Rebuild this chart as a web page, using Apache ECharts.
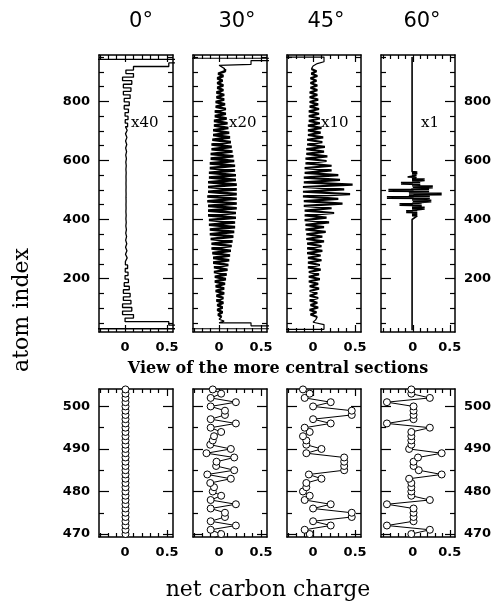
<!DOCTYPE html>
<html><head><meta charset="utf-8">
<script src="https://cdn.jsdelivr.net/npm/echarts/dist/echarts.min.js"></script>
<style>html,body{margin:0;padding:0;background:#fff}#c{width:497px;height:608px}</style>
</head><body><div id="c"></div><script>
// ---------------- data ----------------
const panelTitles = ['0°', '30°', '45°', '60°'];
const scaleLabels = ['x40', 'x20', 'x10', 'x1'];
const xTickLabels = [0, 0.5];
const xMinorTickValues = [-0.4, -0.3, -0.2, -0.1, 0.1, 0.2, 0.3, 0.4];
const topYTickLabels = [200, 400, 600, 800];
const topYMinorTicks = [50, 100, 150, 250, 300, 350, 450, 500, 550, 650, 700, 750, 850, 900, 950];
const bottomYTickLabels = [470, 480, 490, 500];
const bottomYMinorTicks = [475, 485, 495];
const topYRange = [19, 957];
const bottomYRange = [469.3, 504.1];
const xRangeByPanel = [[-0.31, 0.57], [-0.31, 0.57], [-0.31, 0.57], [-0.43, 0.57]];

// 0 deg (x40): step values, one per 12-atom block starting at atom 18
const top0FirstAtom = 18, top0BlockSize = 12;
const top0Charge = [-2, 2, 0.52, 0, 0.1, -0.03, 0.08, -0.03, 0.07, -0.02, 0.06, -0.02, 0.05, -0.01, 0.04, 0,
  0.035, 0.002, 0.03, 0.004, 0.025, 0.005, 0.022, 0.006, 0.02, 0.007, 0.018, 0.008, 0.016, 0.009, 0.014, 0.01,
  0.013, 0.01, 0.012, 0.011, 0.012, 0.011, 0.012, 0.011, 0.012, 0.011, 0.012, 0.011, 0.013, 0.01, 0.014, 0.009,
  0.016, 0.008, 0.018, 0.007, 0.02, 0.006, 0.022, 0.005, 0.025, 0.004, 0.03, 0.002, 0.035, 0, 0.04, -0.01,
  0.05, -0.01, 0.06, -0.02, 0.07, -0.02, 0.08, -0.03, 0.1, 0.01, 0.1, 0.52, 2, -2];

// 30 deg (x20): extremes every 8 atoms starting at atom 70
const top30FirstAtom = 70, top30Step = 8;
const top30Charge = [0.03, -0.01, 0.04, -0.02, 0.04, -0.02, 0.05, -0.03, 0.05, -0.03, 0.06, -0.04, 0.06, -0.04,
  0.07, -0.05, 0.08, -0.05, 0.09, -0.06, 0.10, -0.06, 0.11, -0.07, 0.12, -0.07, 0.13, -0.08, 0.14, -0.09,
  0.15, -0.09, 0.16, -0.10, 0.17, -0.11, 0.18, -0.11, 0.19, -0.12, 0.19, -0.12, 0.20, -0.13, 0.20, -0.13,
  0.21, -0.13, 0.21, -0.14, 0.21, -0.14, 0.21, -0.13, 0.21, -0.13, 0.21, -0.13, 0.20, -0.12, 0.20, -0.12,
  0.19, -0.11, 0.19, -0.11, 0.18, -0.10, 0.17, -0.10, 0.16, -0.09, 0.15, -0.09, 0.14, -0.08, 0.13, -0.07,
  0.12, -0.07, 0.11, -0.06, 0.10, -0.06, 0.09, -0.05, 0.08, -0.05, 0.08, -0.04, 0.07, -0.04, 0.06, -0.03,
  0.06, -0.03, 0.05, -0.02, 0.05, -0.02, 0.04, -0.02, 0.05, -0.01, 0.07, 0.07];
const top30LowEnd = [[-2, 18], [-2, 30], [2, 30], [2, 40], [0.38, 40], [0.38, 50], [0, 50], [0.06, 56], [0, 62]];
const top30HighEnd = [[0.06, 916], [0, 922], [0.38, 925], [0.38, 938], [2, 938], [2, 946], [-2, 946]];

// 45 deg (x10): extremes every 8 atoms starting at atom 70
const top45FirstAtom = 70, top45Step = 8;
const top45Charge = [0.05, -0.03, 0.04, -0.04, 0.06, -0.03, 0.05, -0.04, 0.06, -0.04, 0.05, -0.04, 0.07, -0.04,
  0.06, -0.05, 0.08, -0.05, 0.07, -0.05, 0.09, -0.06, 0.08, -0.06, 0.10, -0.06, 0.09, -0.07, 0.11, -0.07,
  0.10, -0.07, 0.13, -0.08, 0.11, -0.08, 0.15, -0.09, 0.13, -0.09, 0.19, -0.10, 0.16, -0.10, 0.25, -0.10,
  0.22, -0.11, 0.35, -0.11, 0.30, -0.12, 0.44, -0.12, 0.37, -0.12, 0.47, -0.11, 0.32, -0.11, 0.30, -0.10,
  0.22, -0.10, 0.22, -0.09, 0.16, -0.09, 0.17, -0.08, 0.13, -0.08, 0.14, -0.07, 0.11, -0.07, 0.12, -0.06,
  0.09, -0.06, 0.10, -0.06, 0.08, -0.05, 0.08, -0.05, 0.07, -0.05, 0.07, -0.04, 0.06, -0.04, 0.06, -0.04,
  0.05, -0.04, 0.05, -0.03, 0.05, -0.03, 0.04, -0.03, 0.05, -0.02, 0.04, -0.02];
const top45LowEnd = [[-2, 18], [-2, 28], [0.13, 28], [0.13, 44], [0, 52], [0.03, 60]];
const top45HighEnd = [[0, 920], [0.05, 928], [0.13, 934], [0.13, 950], [-2, 950]];

// 60 deg (x1): atom / charge pairs (baseline plus the central burst)
const top60Atom = [25, 400, 412, 413, 417, 418, 423, 424, 425, 428, 429, 430, 431, 436, 437, 441, 442,
  447, 448, 449, 452, 453, 454, 455, 460, 461, 465, 466, 471, 472, 473, 476, 477, 478, 479, 483, 484, 485,
  486, 487, 488, 489, 490, 494, 495, 496, 497, 500, 501, 502, 503, 508, 509, 512, 513, 514, 519, 520, 521,
  524, 525, 526, 527, 532, 533, 537, 538, 543, 544, 549, 550, 551, 556, 557, 561, 562, 950];
const top60Charge = [-0.01, -0.01, 0.06, -0.01, 0.06, -0.01, 0.06, -0.09, 0, 0, -0.09, 0.06, -0.01, 0.16, -0.01, 0.16, -0.01,
  0.12, -0.18, 0, 0, -0.18, 0.12, -0.01, 0.25, 0, 0.25, -0.01, 0.23, -0.35, 0.01, 0.01, -0.35, 0.23, -0.02, -0.05, 0.39, 0.08,
  0.01, 0.01, 0.07, 0.39, -0.05, -0.02, 0.22, -0.33, 0.01, 0.01, -0.33, 0.22, -0.02, 0.27, 0, 0, 0.27, -0.01, 0.1, -0.16, 0,
  0, -0.16, 0.1, -0.01, 0.16, -0.01, 0.16, -0.01, 0.05, -0.07, -0.07, 0.05, -0.01, 0.06, -0.01, 0.06, -0.01, -0.01];

// central section, atoms 469..504
const bottomFirstAtom = 469, bottomLastAtom = 504;
const bot0Charge = [0.005, 0.005, 0.005, 0.005, 0.005, 0.005, 0.005, 0.005, 0.005, 0.005, 0.005, 0.005,
  0.005, 0.005, 0.005, 0.005, 0.005, 0.005, 0.005, 0.005, 0.005, 0.005, 0.005, 0.005,
  0.005, 0.005, 0.005, 0.005, 0.005, 0.005, 0.005, 0.005, 0.005, 0.005, 0.005, 0.005];
const bot30Charge = [-0.06, 0.025, -0.1, 0.2, -0.1, 0.07, 0.07, -0.1, 0.2, -0.1, 0.025, -0.075,
  -0.06, -0.105, 0.14, -0.14, 0.18, -0.035, -0.03, 0.18, -0.15, 0.14, -0.105, -0.075,
  -0.06, 0.025, -0.1, 0.2, -0.1, 0.07, 0.07, -0.1, 0.2, -0.1, 0.025, -0.075];
const bot45Charge = [-0.1, -0.04, -0.1, 0.21, 0, 0.46, 0.46, 0, 0.21, -0.1, -0.04, -0.12,
  -0.08, -0.08, 0.1, -0.05, 0.37, 0.37, 0.37, 0.37, -0.08, 0.1, -0.08, -0.08,
  -0.12, -0.04, -0.1, 0.21, 0, 0.46, 0.46, 0, 0.21, -0.1, -0.04, -0.12];
const bot60Charge = [-0.02, -0.02, 0.23, -0.35, 0.01, 0.01, 0.01, 0.01, -0.35, 0.23, -0.02, -0.02,
  -0.02, -0.02, -0.05, 0.39, 0.08, 0.01, 0.01, 0.07, 0.39, -0.05, -0.02, -0.02,
  -0.02, -0.02, 0.23, -0.35, 0.01, 0.01, 0.01, 0.01, -0.35, 0.23, -0.02, -0.02];

// ---------------- build series data ----------------
function blocks(first, size, vals) {
  const out = [];
  vals.forEach((v, k) => { out.push([v, first + size * k]); out.push([v, first + size * (k + 1)]); });
  return out;
}
function seq(first, step, vals) { return vals.map((v, k) => [v, first + step * k]); }
function pairs(atoms, vals) { return atoms.map((a, k) => [vals[k], a]); }
const body30 = seq(top30FirstAtom, top30Step, top30Charge);
const body45 = seq(top45FirstAtom, top45Step, top45Charge);
// per top panel: list of [points, lineWidth]
const topParts = [
  [[blocks(top0FirstAtom, top0BlockSize, top0Charge), 1.3]],
  [[top30LowEnd.concat([body30[0]]), 1.2], [body30, 2.6], [[body30[body30.length - 1]].concat(top30HighEnd), 1.2]],
  [[top45LowEnd.concat([body45[0]]), 1.2], [body45, 2.2], [[body45[body45.length - 1]].concat(top45HighEnd), 1.2]],
  [[pairs(top60Atom, top60Charge), 1.6]]
];
const bottomAtoms = [];
for (let a = bottomFirstAtom; a <= bottomLastAtom; a++) bottomAtoms.push(a);
const bottomData = [bot0Charge, bot30Charge, bot45Charge, bot60Charge].map(v => pairs(bottomAtoms, v));

// ---------------- layout ----------------
const colLeft = [99, 193, 287, 381];
const panelWidth = 74;
const rowTop = [55, 389];
const rowHeight = [277, 148];
const numFont = 'DejaVu Sans';

const grids = [], xAxes = [], yAxes = [], series = [];
const tickStyle = { color: '#000', width: 1.2 };
function addPanel(row, col, parts) {
  const gi = grids.length;
  const xr = xRangeByPanel[col];
  const yr = row === 0 ? topYRange : bottomYRange;
  const yMajor = row === 0 ? topYTickLabels : bottomYTickLabels;
  const yMinor = row === 0 ? topYMinorTicks : bottomYMinorTicks;
  grids.push({ left: colLeft[col], top: rowTop[row], width: panelWidth, height: rowHeight[row] });
  const xMinor = xMinorTickValues.filter(v => v > xr[0] + 0.005 && v < xr[1] - 0.005);
  ['bottom', 'top'].forEach(pos => {
    xAxes.push({ gridIndex: gi, type: 'value', position: pos, min: xr[0], max: xr[1],
      axisLine: { show: true, onZero: false, lineStyle: { color: '#000', width: 1.5 } },
      axisTick: { show: true, inside: true, length: 7, customValues: xTickLabels, lineStyle: tickStyle },
      axisLabel: { show: pos === 'bottom', customValues: xTickLabels, formatter: v => String(v), margin: 9,
        color: '#000', fontFamily: numFont, fontSize: 13, fontWeight: 'bold' },
      splitLine: { show: false } });
    xAxes.push({ gridIndex: gi, type: 'value', position: pos, min: xr[0], max: xr[1],
      axisLine: { show: false, onZero: false },
      axisTick: { show: true, inside: true, length: 4, customValues: xMinor, lineStyle: tickStyle },
      axisLabel: { show: false }, splitLine: { show: false } });
  });
  ['left', 'right'].forEach(pos => {
    const showLab = (pos === 'left' && col === 0) || (pos === 'right' && col === 3);
    yAxes.push({ gridIndex: gi, type: 'value', position: pos, min: yr[0], max: yr[1],
      axisLine: { show: true, onZero: false, lineStyle: { color: '#000', width: 1.5 } },
      axisTick: { show: true, inside: true, length: 10, customValues: yMajor, lineStyle: tickStyle },
      axisLabel: { show: showLab, customValues: yMajor, formatter: v => String(v), margin: 9,
        color: '#000', fontFamily: numFont, fontSize: 13, fontWeight: 'bold' },
      splitLine: { show: false } });
    yAxes.push({ gridIndex: gi, type: 'value', position: pos, min: yr[0], max: yr[1],
      axisLine: { show: false, onZero: false },
      axisTick: { show: true, inside: true, length: 5, customValues: yMinor, lineStyle: tickStyle },
      axisLabel: { show: false }, splitLine: { show: false } });
  });
  parts.forEach(([data, width]) => {
    const s = { type: 'line', xAxisIndex: 4 * gi, yAxisIndex: 4 * gi, data: data, clip: true,
      lineStyle: { color: '#000', width: width }, animation: false, silent: true };
    if (row === 0) { s.showSymbol = false; s.symbol = 'none'; }
    else { s.symbol = 'circle'; s.symbolSize = 7; s.showSymbol = true;
      s.itemStyle = { color: '#fff', borderColor: '#000', borderWidth: 1 }; }
    series.push(s);
  });
}
for (let c = 0; c < 4; c++) addPanel(0, c, topParts[c]);
for (let c = 0; c < 4; c++) addPanel(1, c, [[bottomData[c], 1]]);

const titleX = [141, 237, 326, 422];
const scaleX = [131, 229, 321, 421];
const graphic = [];
panelTitles.forEach((t, i) => graphic.push({ type: 'text', x: titleX[i], y: 22,
  style: { text: t, font: '21px "DejaVu Sans"', fill: '#000', align: 'center', verticalAlign: 'middle' } }));
scaleLabels.forEach((t, i) => graphic.push({ type: 'text', x: scaleX[i], y: 123,
  style: { text: t, font: '15px "DejaVu Serif"', fill: '#000', align: 'left', verticalAlign: 'middle' } }));
graphic.push({ type: 'text', x: 278, y: 369,
  style: { text: 'View of the more central sections', font: 'bold 16px "DejaVu Serif"', fill: '#000', align: 'center', verticalAlign: 'middle' } });
graphic.push({ type: 'text', x: 268, y: 590,
  style: { text: 'net carbon charge', font: '22px "DejaVu Serif"', fill: '#000', align: 'center', verticalAlign: 'middle' } });
graphic.push({ type: 'text', x: 22, y: 310, rotation: Math.PI / 2,
  style: { text: 'atom index', font: '22px "DejaVu Serif"', fill: '#000', align: 'center', verticalAlign: 'middle' } });

const chart = echarts.init(document.getElementById('c'), null, { renderer: 'canvas' });
chart.setOption({ backgroundColor: '#fff', animation: false, grid: grids, xAxis: xAxes, yAxis: yAxes, series: series, graphic: graphic });
</script></body></html>
